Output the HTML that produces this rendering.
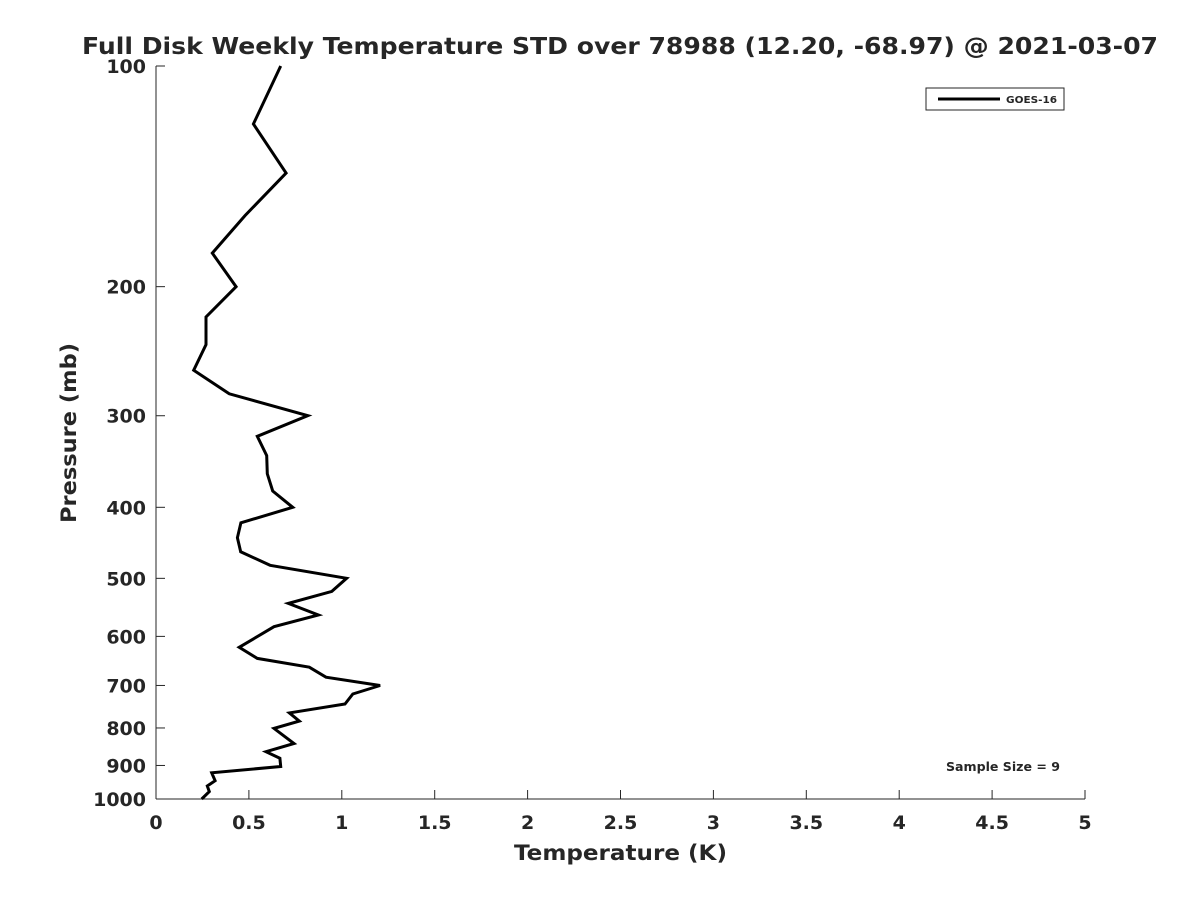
<!DOCTYPE html>
<html><head><meta charset="utf-8"><style>
body{margin:0;background:#fff}
svg text{font-family:"DejaVu Sans","Liberation Sans",sans-serif;font-weight:bold;fill:#262626}
</style></head><body>
<svg id="chart" width="1200" height="900" xmlns="http://www.w3.org/2000/svg">
<rect width="1200" height="900" fill="#fff"/>
<text x="82" y="54" font-size="23" textLength="1076" lengthAdjust="spacingAndGlyphs" fill="#000">Full Disk Weekly Temperature STD over 78988 (12.20, -68.97) @ 2021-03-07</text>
<g id="axes"></g>
<path id="line" fill="none" stroke="#000" stroke-width="3" stroke-linejoin="miter"/>
<g>
<rect x="926" y="88" width="138" height="22" fill="#fff" stroke="#262626" stroke-width="1"/>
<line x1="938" y1="99" x2="1000" y2="99" stroke="#000" stroke-width="3"/>
<text x="1006" y="103" font-size="10" textLength="51" lengthAdjust="spacingAndGlyphs" fill="#000">GOES-16</text>
</g>
<text x="946" y="771" font-size="12" textLength="114" lengthAdjust="spacingAndGlyphs" fill="#000">Sample Size = 9</text>
<text x="514" y="860" font-size="21" textLength="213" lengthAdjust="spacingAndGlyphs">Temperature (K)</text>
<text transform="translate(76,523) rotate(-90)" font-size="21" textLength="180" lengthAdjust="spacingAndGlyphs">Pressure (mb)</text>
</svg>
<script>
const temps=[0.671,0.524,0.700,0.479,0.303,0.431,0.269,0.269,0.203,0.394,0.817,0.545,0.596,0.599,0.628,0.736,0.457,0.438,0.456,0.614,1.026,0.946,0.712,0.874,0.635,0.448,0.545,0.825,0.915,1.206,1.059,1.017,0.718,0.771,0.635,0.743,0.592,0.667,0.671,0.300,0.318,0.276,0.287,0.246];
const pressures=[100,120,140,160,180,200,220,240,260,280,300,320,340,360,380,400,420,440,460,480,500,521,541,561,582,621,643,661,682,700,719,742,763,783,801,840,862,880,903,921,944,960,977,1000];
const xTicks=[0,0.5,1,1.5,2,2.5,3,3.5,4,4.5,5];
const xTickLabels=["0","0.5","1","1.5","2","2.5","3","3.5","4","4.5","5"];
const yTicks=[100,200,300,400,500,600,700,800,900,1000];
const yTickLabels=["100","200","300","400","500","600","700","800","900","1000"];
const X0=156,X1=1085,Y0=66,Y1=799;
const xs=v=>X0+(v-0)/(5-0)*(X1-X0);
const ys=p=>Y0+(Math.log10(p)-2)*(Y1-Y0);
const NS="http://www.w3.org/2000/svg";
const ax=document.getElementById('axes');
function mk(t,a){const e=document.createElementNS(NS,t);for(const k in a)e.setAttribute(k,a[k]);return e;}
let e=mk('line',{x1:X0,y1:Y0,x2:X0,y2:Y1,stroke:'#262626','stroke-width':1});


ax.appendChild(e);
e=mk('line',{x1:X0,y1:Y1,x2:X1,y2:Y1,stroke:'#262626','stroke-width':1});


ax.appendChild(e);
xTicks.forEach((v,i)=>{
 const x=xs(v);
 let t=mk('line',{x1:x,y1:Y1,x2:x,y2:Y1-9,stroke:'#262626','stroke-width':1});
 
 
 ax.appendChild(t);
 let l=mk('text',{x:x,y:Y1+30,'text-anchor':'middle','font-size':19});
 
 
 l.textContent=xTickLabels[i];ax.appendChild(l);
});
yTicks.forEach((p,i)=>{
 const y=ys(p);
 let t=mk('line',{x1:X0,y1:y,x2:X0+9,y2:y,stroke:'#262626','stroke-width':1});
 
 
 ax.appendChild(t);
 let l=mk('text',{x:X0-10,y:y+7,'text-anchor':'end','font-size':19});
 
 
 l.textContent=yTickLabels[i];ax.appendChild(l);
});
document.getElementById('line').setAttribute('d',temps.map((t,i)=>(i?'L':'M')+xs(t).toFixed(1)+' '+ys(pressures[i]).toFixed(1)).join(' '));
</script>
</body></html>
